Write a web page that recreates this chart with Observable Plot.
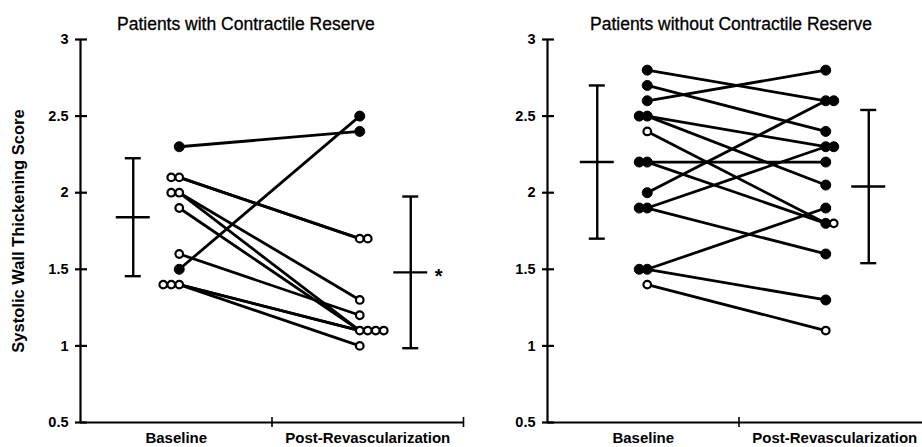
<!DOCTYPE html>
<html><head><meta charset="utf-8">
<script src="https://cdn.jsdelivr.net/npm/d3@7"></script>
<script src="https://cdn.jsdelivr.net/npm/@observablehq/plot@0.6"></script>
<style>
body{margin:0;background:#fff;}
#wrap{position:relative;width:922px;height:447px;overflow:hidden;font-family:"Liberation Sans",Arial,sans-serif;}
.panel{position:absolute;top:0;}
.title{position:absolute;top:14px;font-size:17.5px;color:#000;white-space:nowrap;-webkit-text-stroke:0.3px #000;}
</style>
</head><body><div id="wrap"></div>
<script>
const categories = ["Baseline", "Post-Revascularization"];
const yTicks = [0.5, 1, 1.5, 2, 2.5, 3];
const yTickLabels = ["0.5", "1", "1.5", "2", "2.5", "3"];
const yLabel = "Systolic Wall Thickening Score";

// Patients with contractile reserve
const titleWith = "Patients with Contractile Reserve";
const withBaseline = [2.3, 2.1, 2.1, 2.0, 2.0, 1.9, 1.6, 1.5, 1.4, 1.4, 1.4];
const withPost     = [2.4, 1.7, 1.7, 1.3, 1.1, 1.1, 1.2, 2.5, 1.1, 1.1, 1.0];
const withFilled   = [1, 0, 0, 0, 0, 0, 0, 1, 0, 0, 0];
const withMean = [1.84, 1.48];
const withSD   = [0.385, 0.495];
const withStar = [false, true];

// Patients without contractile reserve
const titleWithout = "Patients without Contractile Reserve";
const withoutBaseline = [2.8, 2.7, 2.6, 2.5, 2.5, 2.4, 2.2, 2.2, 2.0, 1.9, 1.9, 1.5, 1.5, 1.4];
const withoutPost     = [2.6, 2.4, 2.8, 2.3, 2.05, 1.8, 2.2, 1.8, 2.6, 2.3, 1.6, 1.3, 1.9, 1.1];
const withoutFilled   = [1, 1, 1, 1, 1, 0, 1, 1, 1, 1, 1, 1, 1, 0];
const withoutMean = [2.2, 2.04];
const withoutSD   = [0.5, 0.5];
const withoutStar = [false, false];

const FONT = "Liberation Sans, Arial, sans-serif";
const PXU = 383 / 2;            // px per x unit
const u = px => px / PXU;
const YPX = 153;                // px per y unit

function panel(o) {
  const patients = o.baseline.map((b, i) => ({b, p: o.post[i], filled: !!o.filled[i]}));
  const dots = [];
  [[0, "b", -1, o.shiftB], [1, "p", 1, o.shiftP]].forEach(([ci, key, dir, shift]) => {
    const order = patients.slice().sort((a, b) => b.filled - a.filled);
    const count = new Map();
    for (const d of order) {
      const v = d[key];
      const k = count.get(v) || 0;
      count.set(v, k + 1);
      dots.push({x: ci + 0.5 + u(shift + dir * 8 * k), y: v, filled: d.filled});
    }
  });
  const stats = o.mean.map((m, i) => ({x: i + 0.5 + u(o.barShift[i]), m, s: o.sd[i], star: o.star[i]}));
  const marks = [
    Plot.ruleX([0], {y1: 0.5, y2: 3, strokeWidth: 2.2}),
    Plot.ruleY([0.5], {x1: 0, x2: o.xEnd, strokeWidth: 2.2}),
    Plot.ruleY(yTicks, {y: d => d, x1: () => u(-5), x2: () => u(7), strokeWidth: 2.2}),
    Plot.ruleX([1, 2], {x: d => d, y1: () => 0.5 - 5 / YPX, y2: () => 0.5 + 5 / YPX, strokeWidth: 1.6}),
    Plot.text(yTicks, {x: () => 0, y: d => d, text: (d, i) => yTickLabels[i], textAnchor: "end", dx: -12, fontSize: 14.5, fontWeight: "bold"}),
    Plot.text(categories, {x: (d, i) => i + 0.5, y: () => 0.5, dy: 16, text: d => d, fontSize: 15, fontWeight: "bold"}),
    Plot.link(patients, {x1: () => 0.5 + u(o.shiftB), y1: "b", x2: () => 1.5 + u(o.shiftP), y2: "p", strokeWidth: 2.8}),
    Plot.ruleX(stats, {x: "x", y1: d => d.m - d.s, y2: d => d.m + d.s, strokeWidth: 2.4}),
    Plot.ruleY(stats, {y: d => d.m + d.s, x1: d => d.x - u(8), x2: d => d.x + u(8), strokeWidth: 2.4}),
    Plot.ruleY(stats, {y: d => d.m - d.s, x1: d => d.x - u(8), x2: d => d.x + u(8), strokeWidth: 2.4}),
    Plot.ruleY(stats, {y: "m", x1: d => d.x - u(17), x2: d => d.x + u(17), strokeWidth: 2.4}),
    Plot.text(stats.filter(d => d.star), {x: "x", y: "m", text: () => "*", dx: 28, dy: 4, fontSize: 20, fontWeight: "bold"}),
    Plot.dot(dots.filter(d => d.filled), {x: "x", y: "y", r: 5, fill: "black", stroke: "black", strokeWidth: 1}),
    Plot.dot(dots.filter(d => !d.filled), {x: "x", y: "y", r: 3.8, fill: "white", stroke: "black", strokeWidth: 2.2})
  ];
  if (o.yLabel) {
    marks.push(Plot.text([o.yLabel], {frameAnchor: "left", dx: -62, rotate: -90, textAnchor: "middle", text: d => d, fontSize: 16.5, fontWeight: "bold"}));
  }
  return Plot.plot({
    width: o.width, height: 447,
    marginTop: 39, marginBottom: 25, marginLeft: o.marginLeft, marginRight: o.marginRight,
    x: {domain: [0, 2], range: [o.marginLeft, o.marginLeft + 383], axis: null},
    y: {domain: [0.5, 3], axis: null},
    style: {fontFamily: FONT, background: "white", color: "black"},
    marks
  });
}

const wrap = document.getElementById("wrap");
const left = panel({width: 490, marginLeft: 80, marginRight: 27, baseline: withBaseline, post: withPost, filled: withFilled,
  mean: withMean, sd: withSD, star: withStar, shiftB: 3, shiftP: -8, barShift: [-43, 43], xEnd: 2, yLabel});
left.classList.add("panel"); left.style.left = "0px";
const right = panel({width: 432, marginLeft: 57, marginRight: 0, baseline: withoutBaseline, post: withoutPost, filled: withoutFilled,
  mean: withoutMean, sd: withoutSD, star: withoutStar, shiftB: 4, shiftP: -9, barShift: [-46, 34], xEnd: 2.1});
right.classList.add("panel"); right.style.left = "490px";
wrap.appendChild(left); wrap.appendChild(right);

[[titleWith, 117], [titleWithout, 590]].forEach(([t, x0]) => {
  const d = document.createElement("div");
  d.className = "title"; d.textContent = t; d.style.left = x0 + "px";
  wrap.appendChild(d);
});
</script>
</body></html>
